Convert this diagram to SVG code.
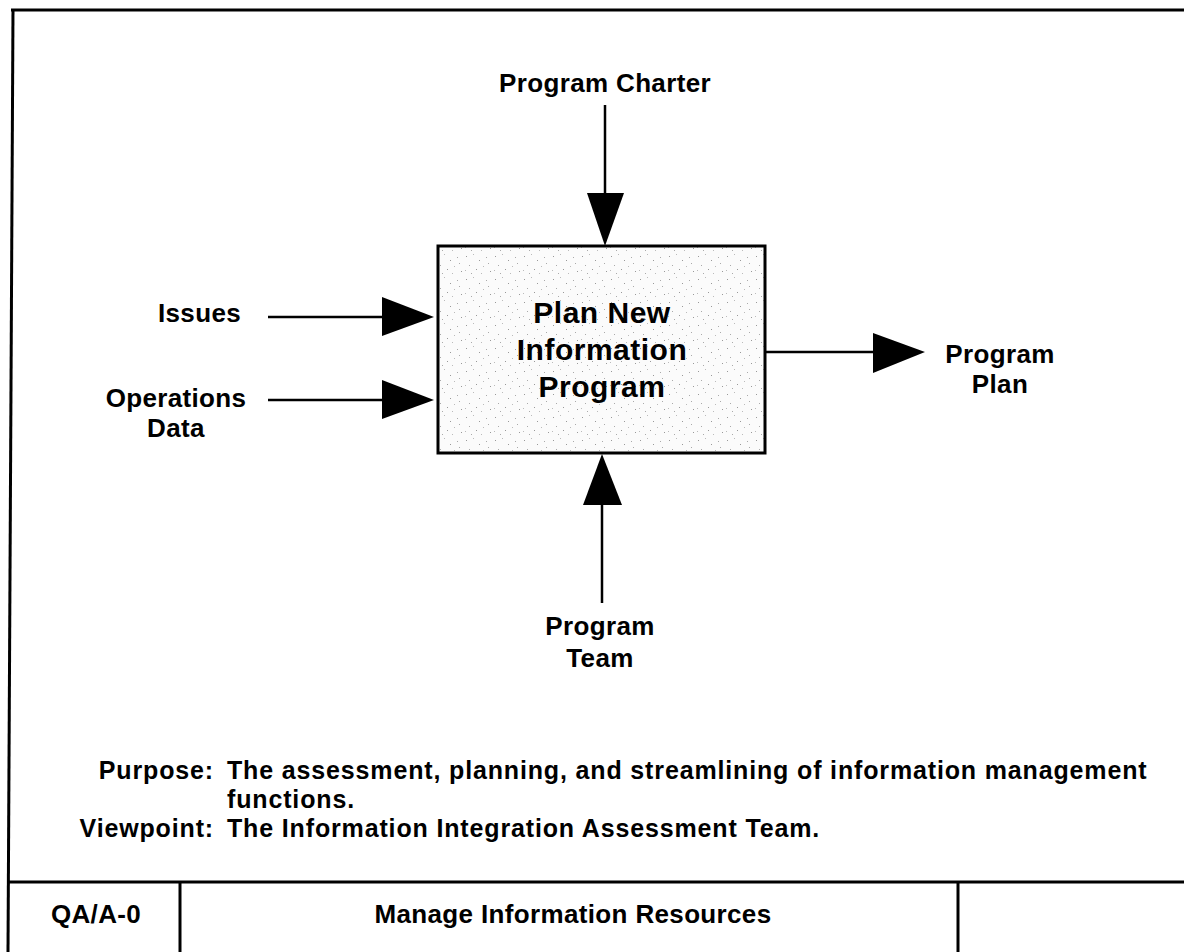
<svg xmlns="http://www.w3.org/2000/svg" width="1184" height="952" viewBox="0 0 1184 952">
  <style>
    .lbl { font-family: "Liberation Sans", Arial, Helvetica, sans-serif; font-weight: bold; font-size: 26px; letter-spacing: 0.35px; fill: #000; }
    .txt { font-family: "Liberation Sans", Arial, Helvetica, sans-serif; font-weight: bold; font-size: 25px; letter-spacing: 0.85px; fill: #000; }
    .big { font-family: "Liberation Sans", Arial, Helvetica, sans-serif; font-weight: bold; font-size: 30px; letter-spacing: 0.5px; fill: #000; }
    .frame { stroke: #000; stroke-width: 3; fill: none; }
    .conn { stroke: #000; stroke-width: 2.5; fill: none; }
    .head { fill: #000; stroke: none; }
  </style>
  <defs>
    <pattern id="speckle" x="0" y="0" width="29" height="23" patternUnits="userSpaceOnUse">
      <rect width="29" height="23" fill="#fbfbfb"/>
      <rect x="2" y="3" width="1" height="1" fill="#999"/>
      <rect x="9" y="1" width="1" height="1" fill="#bbb"/>
      <rect x="15" y="7" width="1" height="1" fill="#999"/>
      <rect x="22" y="4" width="1" height="1" fill="#aaa"/>
      <rect x="5" y="12" width="1" height="1" fill="#aaa"/>
      <rect x="12" y="16" width="1" height="1" fill="#999"/>
      <rect x="19" y="13" width="1" height="1" fill="#bbb"/>
      <rect x="26" y="18" width="1" height="1" fill="#999"/>
      <rect x="7" y="20" width="1" height="1" fill="#aaa"/>
      <rect x="24" y="10" width="1" height="1" fill="#aaa"/>
      <rect x="17" y="20" width="1" height="1" fill="#bbb"/>
      <rect x="1" y="17" width="1" height="1" fill="#bbb"/>
    </pattern>
  </defs>

  <rect width="1184" height="952" fill="#fff"/>

  <g id="frame">
    <line class="frame" x1="11" y1="10" x2="1184" y2="10"/>
    <line class="frame" x1="13" y1="9" x2="8" y2="952"/>
    <line class="frame" x1="9" y1="882" x2="1184" y2="882"/>
    <line class="frame" x1="180" y1="882" x2="180" y2="952"/>
    <line class="frame" x1="958" y1="882" x2="958" y2="952"/>
  </g>

  <g id="connectors">
    <line class="conn" x1="605" y1="105" x2="605" y2="195"/>
    <polygon class="head" points="587,193 624,193 605,246"/>
    <line class="conn" x1="268" y1="317" x2="384" y2="317"/>
    <polygon class="head" points="382,297 382,336 434,317"/>
    <line class="conn" x1="268" y1="400" x2="384" y2="400"/>
    <polygon class="head" points="382,380 382,419 434,400"/>
    <line class="conn" x1="765" y1="352" x2="876" y2="352"/>
    <polygon class="head" points="873,333 873,373 925,352"/>
    <line class="conn" x1="602" y1="503" x2="602" y2="603"/>
    <polygon class="head" points="583,505 622,505 602,454"/>
  </g>

  <g id="node-plan">
    <rect x="438" y="246" width="327" height="207" fill="url(#speckle)" stroke="#000" stroke-width="3"/>
    <text class="big" text-anchor="middle" x="602" y="323">Plan New</text>
    <text class="big" text-anchor="middle" x="602" y="360">Information</text>
    <text class="big" text-anchor="middle" x="602" y="397">Program</text>
  </g>

  <g id="label-charter">
    <text class="lbl" text-anchor="middle" x="605" y="92">Program Charter</text>
  </g>
  <g id="label-issues">
    <text class="lbl" text-anchor="end" x="241" y="322">Issues</text>
  </g>
  <g id="label-opsdata">
    <text class="lbl" text-anchor="middle" x="176" y="407">Operations</text>
    <text class="lbl" text-anchor="middle" x="176" y="437">Data</text>
  </g>
  <g id="label-plan">
    <text class="lbl" text-anchor="middle" x="1000" y="363">Program</text>
    <text class="lbl" text-anchor="middle" x="1000" y="393">Plan</text>
  </g>
  <g id="label-team">
    <text class="lbl" text-anchor="middle" x="600" y="635">Program</text>
    <text class="lbl" text-anchor="middle" x="600" y="667">Team</text>
  </g>

  <g id="purpose">
    <text class="txt" text-anchor="end" x="214" y="779">Purpose:</text>
    <text class="txt" x="227" y="779">The assessment, planning, and streamlining of information management</text>
    <text class="txt" x="227" y="808">functions.</text>
    <text class="txt" text-anchor="end" x="214" y="837">Viewpoint:</text>
    <text class="txt" x="227" y="837">The Information Integration Assessment Team.</text>
  </g>

  <g id="title-block">
    <text class="lbl" text-anchor="middle" x="96" y="923">QA/A-0</text>
    <text class="lbl" text-anchor="middle" x="573" y="923">Manage Information Resources</text>
  </g>
</svg>
